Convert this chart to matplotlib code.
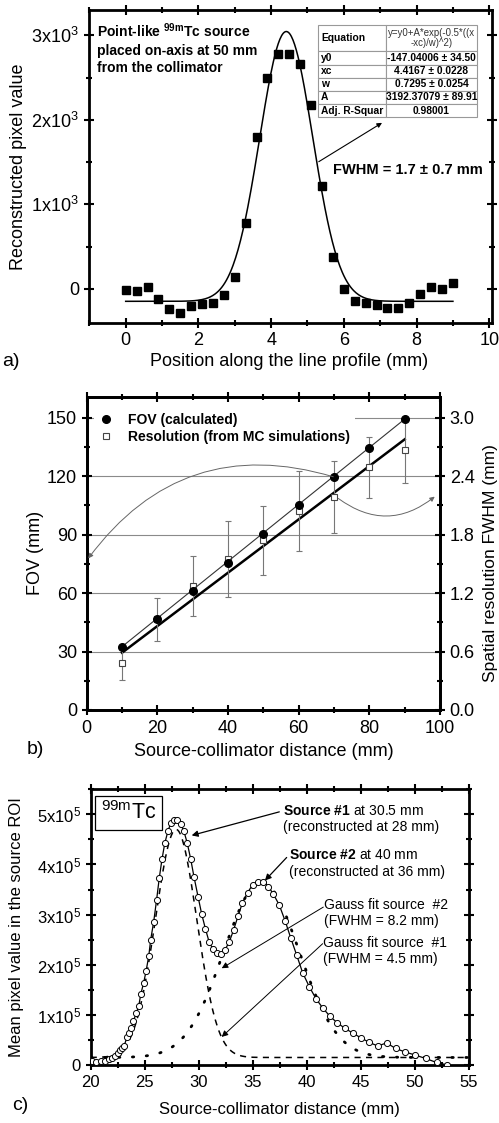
import numpy as np
import matplotlib
matplotlib.use("Agg")
import matplotlib.pyplot as plt
from matplotlib.ticker import MultipleLocator, FixedLocator, FixedFormatter

plt.rcParams['font.family'] = ['Liberation Sans', 'DejaVu Sans']
plt.rcParams['mathtext.fontset'] = 'custom'
plt.rcParams['mathtext.rm'] = 'Liberation Sans'
plt.rcParams['mathtext.bf'] = 'Liberation Sans:bold'
plt.rcParams['mathtext.it'] = 'Liberation Sans:italic'
plt.rcParams['mathtext.default'] = 'regular'

# ---- panel a: line profile through a point source
a_x = [0.0, 0.3, 0.6, 0.9, 1.2, 1.5, 1.8, 2.1, 2.4, 2.7, 3.0, 3.3, 3.6, 3.9, 4.2, 4.5,
       4.8, 5.1, 5.4, 5.7, 6.0, 6.3, 6.6, 6.9, 7.2, 7.5, 7.8, 8.1, 8.4, 8.7, 9.0]
a_y = [-12, -24, 20, -114, -236, -287, -208, -177, -169, -71, 141, 774, 1796, 2495, 2782, 2782,
       2664, 2173, 1214, 377, 4, -141, -165, -196, -224, -224, -165, -55, 24, 4, 67]
# gaussian fit parameters as printed in the table
fit_y0 = -147.04006
fit_xc = 4.4167
fit_w = 0.7295
fit_A = 3192.37079

table_rows = [
    ["Equation", "y=y0+A*exp(-0.5*((x\n-xc)/w)^2)"],
    ["y0", "-147.04006 \u00b1 34.50"],
    ["xc", "4.4167 \u00b1 0.0228"],
    ["w", "0.7295 \u00b1 0.0254"],
    ["A", "3192.37079 \u00b1 89.91"],
    ["Adj. R-Squar", "0.98001"],
]

# ---- panel b: FOV and resolution vs distance
b_dist = [10, 20, 30, 40, 50, 60, 70, 80, 90]
b_fov = [32.2, 46.7, 61.1, 75.6, 90.1, 105.0, 119.7, 134.6, 149.5]
b_res = [0.486, 0.93, 1.27, 1.55, 1.74, 2.04, 2.19, 2.49, 2.67]
b_res_err = [0.18, 0.22, 0.31, 0.39, 0.35, 0.41, 0.37, 0.31, 0.34]
fov_fit_x = [10, 90]
fov_fit_y = [32.5, 149.3]
res_fit_x = [10, 90]
res_fit_y = [0.588, 2.778]

# ---- panel c: two sources profile
c_x = [20.12, 20.52, 20.92, 21.29, 21.67, 21.97, 22.22, 22.52, 22.74, 22.9, 23.08, 23.36,
       23.57, 23.76, 23.94, 24.22, 24.44, 24.63, 24.9, 25.12, 25.37, 25.55, 25.83, 26.1,
       26.35, 26.6, 26.85, 27.15, 27.4, 27.7, 28.0, 28.35, 28.63, 28.94, 29.25, 29.56,
       29.93, 30.27, 30.61, 30.95, 31.29, 31.66, 32.03, 32.43, 32.83, 33.23, 33.63, 34.03,
       34.52, 34.99, 35.48, 35.97, 36.44, 36.9, 37.45, 37.98, 38.5, 39.06, 39.61, 40.23,
       40.85, 41.46, 42.14, 42.82, 43.53, 44.3, 45.01, 45.78, 46.55, 47.38, 48.21, 49.08,
       50.0, 50.99, 52.0, 52.99]
c_y_e5 = [0.073, 0.066, 0.073, 0.086, 0.11, 0.145, 0.18, 0.23, 0.29, 0.33, 0.38, 0.55,
          0.63, 0.74, 0.87, 1.04, 1.17, 1.41, 1.64, 1.87, 2.17, 2.50, 2.86, 3.30,
          3.74, 4.11, 4.42, 4.67, 4.82, 4.88, 4.88, 4.80, 4.66, 4.42, 4.11, 3.75,
          3.36, 3.01, 2.72, 2.46, 2.32, 2.24, 2.22, 2.30, 2.46, 2.70, 2.97, 3.23,
          3.44, 3.60, 3.66, 3.66, 3.56, 3.41, 3.19, 2.88, 2.54, 2.19, 1.84, 1.56,
          1.32, 1.14, 0.97, 0.84, 0.73, 0.63, 0.54, 0.45, 0.38, 0.44, 0.33, 0.26,
          0.20, 0.13, 0.05, 0.0]
# gauss fits (baseline, amplitude, centre, FWHM)
g1_base, g1_amp, g1_xc, g1_fwhm = 0.15e5, 4.55e5, 27.9, 4.5
g2_base, g2_amp, g2_xc, g2_fwhm = 0.15e5, 3.5e5, 35.8, 8.2


def gauss(x, base, amp, xc, sigma):
    return base + amp * np.exp(-0.5 * ((x - xc) / sigma) ** 2)


def style_axes(ax, right=True):
    for s in ax.spines.values():
        s.set_linewidth(2)
    ax.tick_params(which='both', direction='inout', top=True, right=right, width=1.5)
    ax.tick_params(which='major', length=7)
    ax.tick_params(which='minor', length=5)


W, H = 499, 1123
fig = plt.figure(figsize=(W / 100, H / 100), dpi=100)


def px_axes(l, t, r, b):
    return fig.add_axes([l / W, 1 - b / H, (r - l) / W, (b - t) / H])


# ===================== a)
ax = px_axes(88.6, 10, 492.2, 322.7)
xs = np.linspace(0, 9, 400)
ax.plot(xs, fit_y0 + fit_A * np.exp(-0.5 * ((xs - fit_xc) / fit_w) ** 2), color='k', lw=1.1)
ax.plot(a_x, a_y, 's', color='k', ms=5.5)
ax.set_xlim(-1.02, 10.08)
ax.set_ylim(-400, 3300)
ax.xaxis.set_major_locator(MultipleLocator(2))
ax.xaxis.set_minor_locator(MultipleLocator(1))
ax.yaxis.set_major_locator(FixedLocator([0, 1000, 2000, 3000]))
ax.yaxis.set_major_formatter(FixedFormatter(['0', '1x10$^3$', '2x10$^3$', '3x10$^3$']))
ax.yaxis.set_minor_locator(MultipleLocator(500))
style_axes(ax)
ax.tick_params(labelsize=13)
ax.set_xlabel("Position along the line profile (mm)", fontsize=13, va='center')
ax.xaxis.set_label_coords(0.497, -0.125)
ax.set_ylabel("Reconstructed pixel value", fontsize=13, va='center', ha='center')
ax.yaxis.set_label_coords(-0.173, 0.5)
ax.text(-0.8, 3160, "Point-like $^{\\mathbf{99m}}$Tc source\nplaced on-axis at 50 mm\nfrom the collimator",
        fontsize=10, fontweight='bold', va='top', ha='left', linespacing=1.3)
ax.text(5.71, 1407, "FWHM = 1.7 \u00b1 0.7 mm", fontsize=10.5, fontweight='bold', va='center', ha='left')
ax.annotate('', xy=(7.05, 1965), xytext=(5.31, 1505),
            arrowprops=dict(arrowstyle='-|>', color='k', lw=0.8, mutation_scale=7, shrinkA=0, shrinkB=0))

tab = ax.table(cellText=table_rows, colWidths=[0.424, 0.576], bbox=[0.569, 0.657, 0.394, 0.295], zorder=5)
tab.auto_set_font_size(False)
for (r, c), cell in tab.get_celld().items():
    cell.set_edgecolor('#999999')
    cell.set_linewidth(0.8)
    cell.set_facecolor('white')
    t = cell.get_text()
    t.set_fontsize(7.4)
    if r == 0:
        cell.set_height(cell.get_height() * 2)
    if c == 0:
        cell._loc = 'left'
        cell.PAD = 0.04
        t.set_ha('left')
        t.set_fontweight('bold')
    else:
        cell._loc = 'center'
        t.set_ha('center')
        if r == 0:
            t.set_fontweight('normal')
            t.set_fontsize(6.9)
            t.set_color('#333333')
            t.set_linespacing(1.0)
        else:
            t.set_fontweight('bold')
fig.text(11 / W, 1 - 361 / H, "a)", fontsize=14, ha='center', va='center')

# ===================== b)
axb = px_axes(86.7, 396.7, 440, 710)
axb2 = axb.twinx()
axb2.set_zorder(axb.get_zorder() - 1)
axb.patch.set_visible(False)
axb.set_xlim(0, 100)
axb.set_ylim(0, 160.8)
axb2.set_ylim(0, 160.8 / 50)
axb2.grid(True, which='major', color='#8a8a8a', lw=0.8)
axb2.set_axisbelow(True)
axb2.xaxis.set_major_locator(MultipleLocator(20))
axb2.yaxis.set_major_locator(MultipleLocator(0.6))
axb2.yaxis.set_minor_locator(MultipleLocator(0.3))
axb2.yaxis.set_major_formatter(plt.FuncFormatter(lambda v, p: "%.1f" % v))

axb2.plot(res_fit_x, res_fit_y, color='k', lw=1.8)
axb2.errorbar(b_dist, b_res, yerr=b_res_err, fmt='s', ms=5, mfc='white', mec='#444444', mew=0.8,
              ecolor='#777777', elinewidth=0.8, capsize=2.5, capthick=0.8)
h_res, = axb.plot([], [], 's', ms=5, mfc='white', mec='#444444', mew=0.8)
axb.plot(fov_fit_x, fov_fit_y, color='#333333', lw=0.8)
h_fov, = axb.plot(b_dist, b_fov, 'o', color='k', ms=5.5)

axb.xaxis.set_major_locator(MultipleLocator(20))
axb.xaxis.set_minor_locator(MultipleLocator(10))
axb.yaxis.set_major_locator(MultipleLocator(30))
axb.yaxis.set_minor_locator(MultipleLocator(15))
style_axes(axb, right=False)
style_axes(axb2)
axb2.tick_params(left=False, top=False, bottom=False, labelbottom=False)
axb.tick_params(labelsize=13)
axb2.tick_params(labelsize=13)
leg = axb.legend([h_fov, h_res], ["FOV (calculated)", "Resolution (from MC simulations)"],
                 loc='upper left', bbox_to_anchor=(0.0, 0.985), frameon=True, fancybox=False,
                 edgecolor='none', facecolor='white', framealpha=1, handlelength=1.2,
                 handletextpad=1.0, labelspacing=0.25, borderpad=0.3,
                 prop={'weight': 'bold', 'size': 10})
axb.annotate('', xy=(0.45, 77.8), xytext=(69.8, 119.7),
             arrowprops=dict(arrowstyle='-|>', color='#666666', lw=0.7, mutation_scale=7,
                             connectionstyle='arc3,rad=0.35', shrinkA=0, shrinkB=0))
axb.annotate('', xy=(98.5, 109.5), xytext=(71.2, 108.6),
             arrowprops=dict(arrowstyle='-|>', color='#666666', lw=0.7, mutation_scale=7,
                             connectionstyle='arc3,rad=0.38', shrinkA=0, shrinkB=0))
axb.set_xlabel("Source-collimator distance (mm)", fontsize=13, va='center')
axb.xaxis.set_label_coords(0.5, -0.133)
axb.set_ylabel("FOV (mm)", fontsize=13, va='center', ha='center')
axb.yaxis.set_label_coords(-0.146, 0.5)
axb2.set_ylabel("Spatial resolution FWHM (mm)", fontsize=12.5, va='center', ha='center', rotation=90)
axb2.yaxis.set_label_coords(1.143, 0.47)
fig.text(35 / W, 1 - 749 / H, "b)", fontsize=14, ha='center', va='center')

# ===================== c)
axc = px_axes(90.7, 789.3, 469, 1065)
cx = np.linspace(20, 55, 500)
axc.plot(cx, gauss(cx, g2_base, g2_amp, g2_xc, g2_fwhm / 2.3548), color='k', lw=2,
         linestyle=(0, (0.5, 4.5)), dash_capstyle='round', zorder=2)
axc.plot(cx, gauss(cx, g1_base, g1_amp, g1_xc, g1_fwhm / 2.3548), color='k', lw=1.1,
         linestyle=(0, (4, 3.5)), zorder=2)
axc.plot(c_x, np.array(c_y_e5) * 1e5, '-o', color='k', lw=0.9, ms=4.4, mfc='white', mew=0.7, zorder=3)
axc.set_xlim(20, 55)
axc.set_ylim(0, 5.5e5)
axc.xaxis.set_major_locator(MultipleLocator(5))
axc.xaxis.set_minor_locator(MultipleLocator(2.5))
axc.yaxis.set_major_locator(FixedLocator([0, 1e5, 2e5, 3e5, 4e5, 5e5]))
axc.yaxis.set_major_formatter(FixedFormatter(['0', '1x10$^5$', '2x10$^5$', '3x10$^5$', '4x10$^5$', '5x10$^5$']))
axc.yaxis.set_minor_locator(MultipleLocator(0.5e5))
style_axes(axc)
axc.tick_params(labelsize=12)
axc.set_xlabel("Source-collimator distance (mm)", fontsize=12, va='center')
axc.xaxis.set_label_coords(0.5, -0.16)
axc.set_ylabel("Mean pixel value in the source ROI", fontsize=12, va='center', ha='center')
axc.yaxis.set_label_coords(-0.196, 0.5)
axc.text(0.1, 0.915, "$^{99m}$Tc", transform=axc.transAxes, fontsize=15.5, ha='center', va='center',
         bbox=dict(boxstyle='square,pad=0.25', fc='white', ec='k', lw=0.9))

arrow_kw = dict(arrowstyle='-|>', color='k', lw=0.9, mutation_scale=9, shrinkA=0, shrinkB=0)
axc.text(37.82, 4.91e5, "$\\mathbf{Source\\ \\#1}$ at 30.5 mm\n(reconstructed at 28 mm)", fontsize=10,
         ha='left', va='center')
axc.annotate('', xy=(29.34, 4.58e5), xytext=(37.45, 5.05e5), arrowprops=arrow_kw)
axc.text(38.37, 4.02e5, "$\\mathbf{Source\\ \\#2}$ at 40 mm\n(reconstructed at 36 mm)", fontsize=10,
         ha='left', va='center')
axc.annotate('', xy=(36.12, 3.68e5), xytext=(38.13, 4.14e5), arrowprops=arrow_kw)
axc.text(41.58, 3.03e5, "Gauss fit source  #2\n(FWHM = 8.2 mm)", fontsize=10, ha='left', va='center')
axc.annotate('', xy=(32.12, 1.93e5), xytext=(41.52, 3.15e5), arrowprops=dict(arrow_kw, lw=0.7))
axc.text(41.52, 2.28e5, "Gauss fit source  #1\n(FWHM = 4.5 mm)", fontsize=10, ha='left', va='center')
axc.annotate('', xy=(32.12, 0.56e5), xytext=(41.46, 2.42e5), arrowprops=dict(arrow_kw, lw=0.7))
fig.text(20 / W, 1 - 1105 / H, "c)", fontsize=14, ha='center', va='center')

fig.savefig("out.png", dpi=100)
